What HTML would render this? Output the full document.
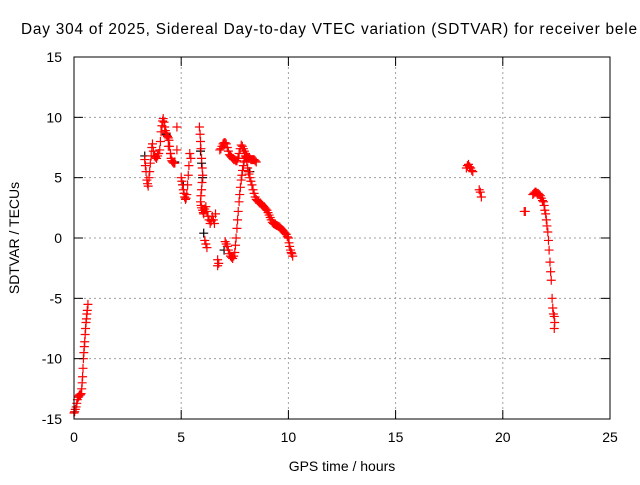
<!DOCTYPE html>
<html><head><meta charset="utf-8"><style>
body{margin:0;background:#fff;}
svg text{font-family:"Liberation Sans",sans-serif;font-size:14px;fill:#000;}
</style></head><body>
<svg id="chart" width="640" height="480" xmlns="http://www.w3.org/2000/svg">
<rect width="640" height="480" fill="#fff"/>
<text x="21" y="34" style="font-size:15.4px" textLength="616" lengthAdjust="spacing">Day 304 of 2025, Sidereal Day-to-day VTEC variation (SDTVAR) for receiver bele</text>
<g id="grid"></g>
<g id="black"></g>
<g id="red"></g>
<rect x="74" y="57" width="536" height="362" fill="none" stroke="#000" stroke-width="1"/>
<g id="ticks"></g>
<text x="342" y="471" text-anchor="middle">GPS time / hours</text>
<text transform="translate(19,238) rotate(-90)" text-anchor="middle">SDTVAR / TECUs</text>
</svg>
<script>
const xTicks=[0,5,10,15,20,25];
const yTicks=[-15,-10,-5,0,5,10,15];
const redT=[0,0.03,0.06,0.1,0.13,0.16,0.2,0.23,0.26,0.3,0.33,0.36,0.38,0.4,0.42,0.44,0.46,0.48,0.5,0.52,0.54,0.56,0.58,0.6,0.62,0.65,
3.3,3.33,3.36,3.4,3.43,3.46,3.5,3.53,3.56,3.6,3.63,3.66,3.7,3.75,3.8,3.85,3.9,3.95,4.0,4.03,4.06,4.1,4.13,4.16,4.2,4.23,4.26,4.3,4.33,4.36,4.4,4.43,4.46,4.5,4.53,4.56,4.6,4.65,4.7,4.8,4.8,4.4,4.5,
5.0,5.03,5.06,5.1,5.13,5.16,5.2,5.23,5.26,5.3,5.33,5.36,5.4,5.45,
5.85,5.88,5.9,5.92,5.95,5.98,6.0,5.97,5.95,5.92,5.9,5.93,5.95,6.0,6.03,6.05,6.1,6.15,6.2,6.25,6.3,6.35,6.4,6.45,6.5,6.55,6.6,6.1,6.15,6.2,6.7,6.7,6.75,
6.8,6.85,6.9,6.95,7.0,7.05,7.1,7.15,7.2,7.25,7.3,7.35,7.4,7.45,7.5,7.55,7.6,7.65,7.7,7.75,7.8,7.85,7.9,7.95,8.0,8.05,8.1,8.15,8.2,8.25,8.3,8.35,8.4,8.45,8.5,
7.05,7.1,7.15,7.2,7.25,7.3,7.35,7.4,7.45,7.5,7.53,7.56,7.6,7.63,7.66,7.7,7.73,7.76,7.8,7.83,7.86,7.9,7.93,7.96,8.0,8.03,8.06,8.1,8.13,8.16,8.2,8.25,8.3,8.35,8.4,8.45,8.5,8.55,8.6,8.65,8.7,8.75,8.8,8.85,8.9,8.95,9.0,9.05,9.1,9.15,9.2,9.25,9.3,9.35,9.4,9.45,9.5,9.55,9.6,9.65,9.7,9.75,9.8,9.85,9.9,9.95,10.0,10.03,10.06,10.1,10.13,10.16,10.2,
18.3,18.35,18.4,18.45,18.5,18.55,18.6,18.9,18.95,19.0,
21.0,21.05,21.4,21.45,21.5,21.55,21.6,21.65,21.7,21.75,21.8,21.85,21.9,21.93,21.96,22.0,22.03,22.06,22.1,22.13,22.16,22.2,22.23,22.26,22.3,22.33,22.36,22.4,22.4,22.42];
const redV=[-14.5,-14.4,-14.2,-14,-13.7,-13.4,-13.2,-13.1,-13,-13,-12.9,-12.5,-12,-11.5,-10.8,-10,-9.5,-9,-8.6,-8,-7.5,-7,-6.7,-6.3,-6,-5.5,
6.5,6,5.5,4.8,4.5,4.3,5,5.5,6.2,6.8,7.5,7.8,7.2,6.8,6.7,6.6,6.8,7,7.3,8,8.8,9.3,9.7,9.9,9.6,9.2,8.9,8.7,8.5,8.4,8.3,8.1,7.6,7,6.6,6.4,6.3,6.2,6.2,9.2,7.3,7.6,7,
5,4.7,4.4,4,3.7,3.4,3.2,3.3,3.6,4.4,5.2,6,7,6.6,
9.2,8.6,8,7.4,6.6,5.8,5.2,4.6,4,3.5,3,2.7,2.5,2.3,2.1,2,2.4,2.6,2.2,1.8,1.5,1.2,1.4,1.8,1.5,1.2,2,-0.2,-0.5,-0.8,-1.8,-2.3,-2.1,
7.3,7.4,7.6,7.8,7.9,7.9,7.8,7.5,7.2,6.9,6.8,6.7,6.6,6.5,6.5,6.4,6.4,6.6,7,7.4,7.7,7.6,7.4,7.2,7,6.8,6.7,6.6,6.6,6.5,6.5,6.5,6.5,6.4,6.3,
-0.3,-0.5,-0.7,-1,-1.3,-1.5,-1.6,-1.7,-1.5,-1.2,-0.6,0,0.8,1.5,2.2,3,3.6,4.2,4.8,5.2,5.6,6,6.3,6.6,6.8,6.7,6.4,5.8,5.5,5.3,5,4.7,4.4,4,3.7,3.4,3.2,3.1,3,2.9,2.9,2.8,2.7,2.6,2.5,2.4,2.3,2.1,1.9,1.7,1.5,1.3,1.2,1.15,1.1,1.05,1,0.95,0.9,0.8,0.7,0.6,0.5,0.4,0.3,0.1,0,-0.4,-0.7,-1,-1.2,-1.3,-1.5,
5.8,6,6.1,5.9,5.8,5.6,5.5,4,3.8,3.4,
2.2,2.2,3.6,3.7,3.8,3.8,3.7,3.7,3.6,3.5,3.3,3.1,3,2.7,2.3,2,1.5,1,0.5,-0.2,-1,-2,-2.8,-3.5,-5,-5.8,-6.3,-6.5,-7.5,-7];
const blackT=[3.3,4.7,5.9,5.95,6.0,6.05,7.0,8.2,4.3,5.1];
const blackV=[6.8,6.3,7.2,6.2,5,0.4,-1,5.5,8.6,4.4];
const NS="http://www.w3.org/2000/svg";
const xS=t=>74+t*536/25;
const yS=v=>238-v*362/30;
function mk(tag,at,parent){const e=document.createElementNS(NS,tag);for(const k in at)e.setAttribute(k,at[k]);parent.appendChild(e);return e;}
const grid=document.getElementById('grid'),ticks=document.getElementById('ticks');
xTicks.forEach(t=>{const x=xS(t);
 if(t>0&&t<25){const g=mk('line',{x1:x,y1:57,x2:x,y2:419,stroke:'#a0a0a0','stroke-dasharray':'2,3'},grid);
 
 }
 mk('line',{x1:x,y1:419,x2:x,y2:410,stroke:'#000'},ticks);mk('line',{x1:x,y1:57,x2:x,y2:66,stroke:'#000'},ticks);
 const l=mk('text',{x:x,y:442,'text-anchor':'middle'},ticks);l.textContent=t;
 
 });
yTicks.forEach(v=>{const y=yS(v);
 if(v>-15&&v<15){const g=mk('line',{x1:74,y1:y,x2:610,y2:y,stroke:'#a0a0a0','stroke-dasharray':'2,3'},grid);
 
 }
 mk('line',{x1:74,y1:y,x2:83,y2:y,stroke:'#000'},ticks);mk('line',{x1:610,y1:y,x2:601,y2:y,stroke:'#000'},ticks);
 const l=mk('text',{x:62,y:y+5,'text-anchor':'end'},ticks);l.textContent=v;
 
 });
function plus(g,x,y,c){const p=mk('path',{d:`M${x-4.5} ${y}H${x+4.5}M${x} ${y-4.5}V${y+4.5}`,stroke:c,'stroke-width':1.2,fill:'none'},g);return p;}
const bg=document.getElementById('black');
blackT.forEach((t,i)=>{const p=plus(bg,xS(t),yS(blackV[i]),'#000');
 
 });
const rg=document.getElementById('red');
redT.forEach((t,i)=>{const p=plus(rg,xS(t),yS(redV[i]),'#ff0000');
 
 });
</script>
</body></html>
